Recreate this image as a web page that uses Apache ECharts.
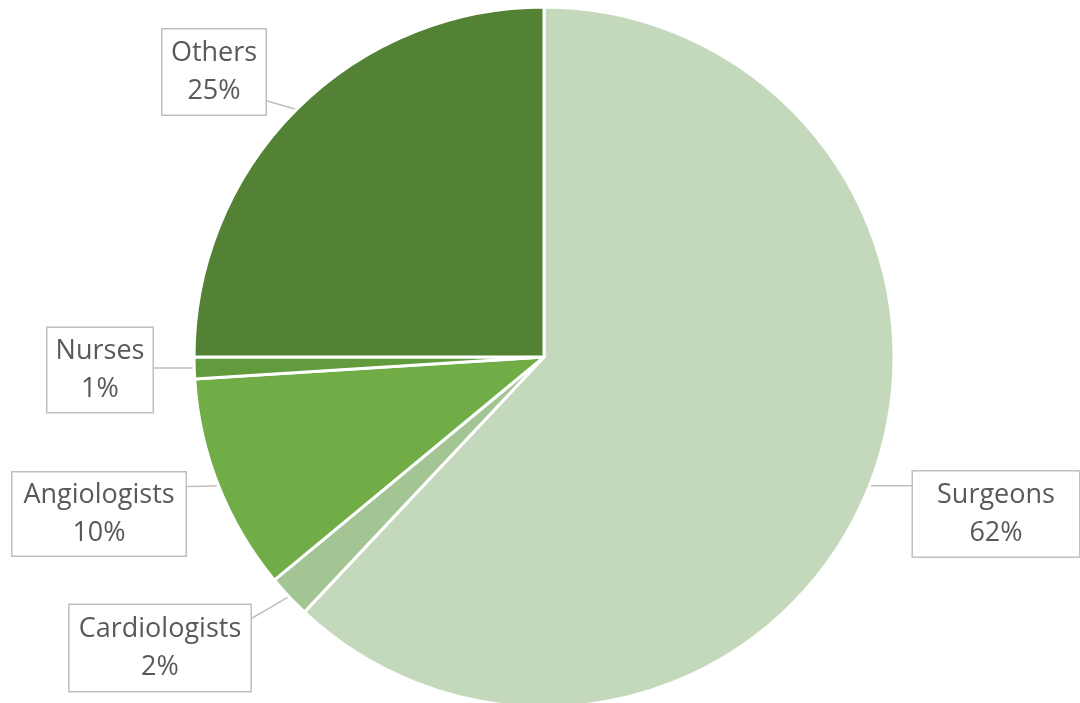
<!DOCTYPE html>
<html>
<head>
<meta charset="utf-8">
<script src="https://cdn.jsdelivr.net/npm/echarts@6/dist/echarts.min.js"></script>
<style>
html,body{margin:0;padding:0;background:#fff;}
#chart{width:1080px;height:703px;}
</style>
</head>
<body>
<div id="chart"></div>
<script>
var categories = ['Surgeons', 'Cardiologists', 'Angiologists', 'Nurses', 'Others'];
var values = [62, 2, 10, 1, 25];
var colors = ['#C4D8BB', '#A3C594', '#70AD47', '#629B3E', '#548235'];

// label box centres and sizes (layout styling)
var boxLayout = {
  'Surgeons':      {cx: 996, cy: 514, w: 166, h: 85},
  'Cardiologists': {cx: 160, cy: 648, w: 181, h: 86},
  'Angiologists':  {cx: 99,  cy: 514, w: 173, h: 83},
  'Nurses':        {cx: 100, cy: 370, w: 105, h: 84},
  'Others':        {cx: 214, cy: 72,  w: 103, h: 85}
};
var padTop = 7;

var chart = echarts.init(document.getElementById('chart'));
var data = categories.map(function (c, i) {
  var b = boxLayout[c];
  return {
    name: c,
    value: values[i],
    itemStyle: {color: colors[i]},
    label: {width: b.w, height: b.h - padTop}
  };
});

chart.setOption({
  animation: false,
  series: [{
    type: 'pie',
    center: [544, 357],
    radius: 350,
    startAngle: 90,
    clockwise: true,
    avoidLabelOverlap: false,
    data: data,
    itemStyle: {borderColor: '#ffffff', borderWidth: 3},
    label: {
      show: true,
      position: 'outside',
      formatter: '{b}\n{d}%',
      fontFamily: '"Open Sans", sans-serif',
      fontSize: 27,
      lineHeight: 38,
      color: '#595959',
      align: 'center',
      verticalAlign: 'middle',
      backgroundColor: '#ffffff',
      borderColor: '#BFBFBF',
      borderWidth: 1.5,
      padding: [padTop, 0, 0, 0]
    },
    labelLine: {
      show: true,
      length: 20,
      length2: 20,
      lineStyle: {color: '#BFBFBF', width: 1.5}
    },
    labelLayout: function (params) {
      var b = boxLayout[categories[params.dataIndex]];
      var a = params.labelLinePoints ? params.labelLinePoints[0] : [b.cx, b.cy];
      var left = b.cx - b.w / 2, right = b.cx + b.w / 2;
      var top = b.cy - b.h / 2, bottom = b.cy + b.h / 2;
      var ex = a[0] > right ? right : (a[0] < left ? left : b.cx);
      var ey = Math.max(top + 14, Math.min(bottom - 14, a[1]));
      return {
        x: b.cx, y: b.cy, align: 'center', verticalAlign: 'middle',
        labelLinePoints: [[a[0], a[1]], [(a[0] + ex) / 2, (a[1] + ey) / 2], [ex, ey]]
      };
    }
  }]
});
</script>
</body>
</html>
